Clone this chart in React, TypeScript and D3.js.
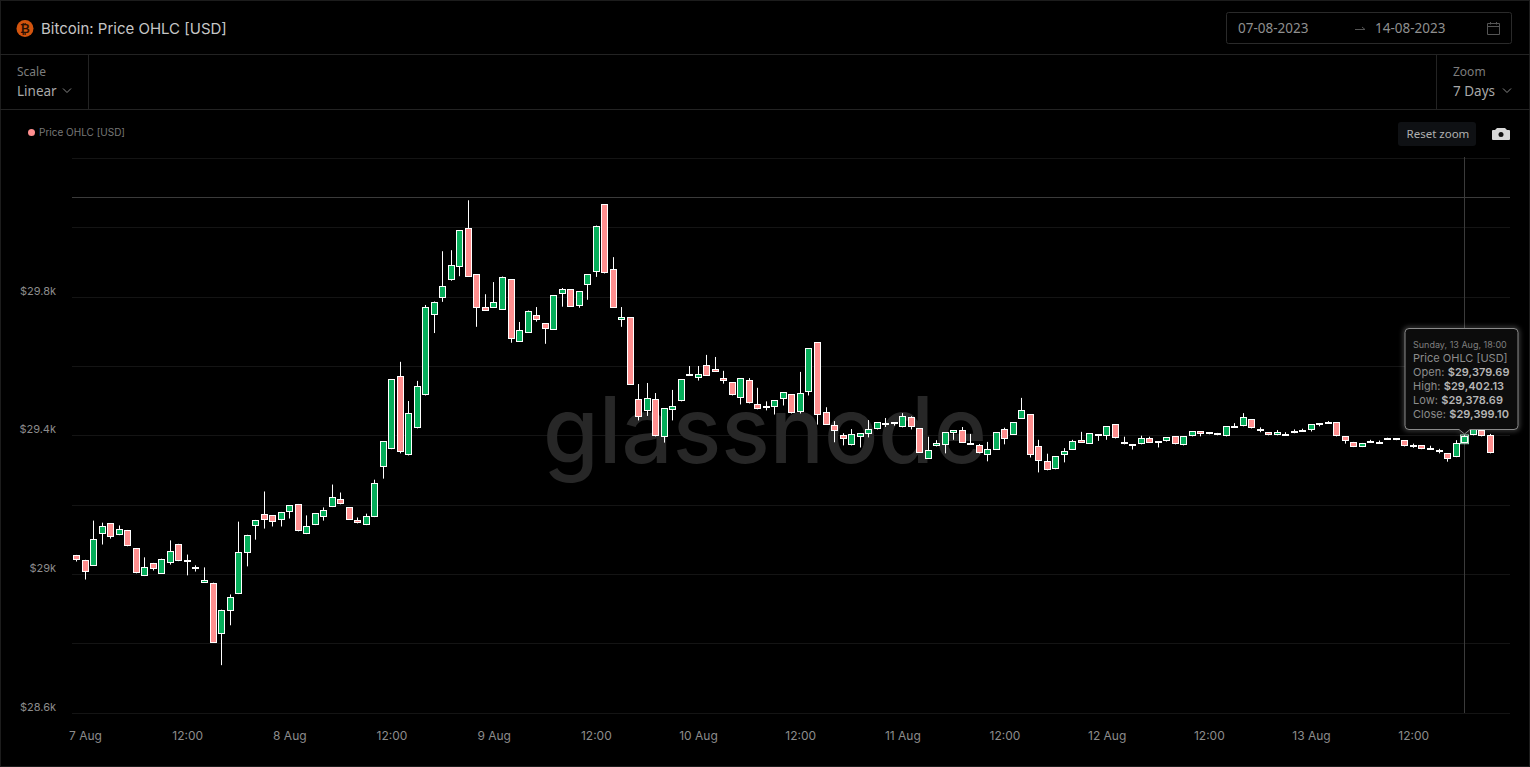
import React from "react";
import * as d3 from "d3";

const START_MS = Date.UTC(2023, 7, 6, 23);
const HOUR_MS = 3600000;
const opens = [29056,29042,29024,29116,29148,29113,29128,29076,28995,29033,29001,29032,29088,29042,29022,28975,28976,28828,28894,28943,29061,29139,29174,29171,29156,29179,29203,29116,29142,29165,29194,29218,29194,29157,29142,29165,29311,29361,29571,29343,29421,29516,29749,29798,29850,29887,30000,29865,29770,29769,29763,29851,29671,29697,29747,29724,29706,29809,29822,29775,29835,29871,30067,29880,29735,29741,29505,29472,29505,29395,29473,29499,29575,29565,29603,29592,29566,29554,29510,29560,29491,29484,29484,29507,29520,29467,29527,29669,29468,29430,29402,29372,29395,29406,29418,29433,29439,29424,29453,29422,29334,29369,29373,29409,29416,29375,29373,29343,29360,29419,29403,29449,29462,29370,29327,29303,29343,29360,29387,29377,29401,29398,29433,29381,29375,29375,29393,29380,29386,29399,29372,29398,29413,29404,29408,29398,29427,29427,29448,29415,29410,29401,29406,29407,29413,29415,29436,29435,29439,29399,29382,29367,29384,29381,29392,29393,29387,29369,29373,29362,29355,29350,29338,29379.69,29401,29417,29403];
const highs = [29056,29042,29155,29149,29148,29141,29128,29076,29049,29033,29045,29098,29088,29057,29026,29020,28976,28898,28942,29152,29114,29157,29239,29171,29180,29200,29203,29170,29177,29193,29259,29236,29194,29164,29175,29273,29384,29563,29613,29500,29558,29777,29787,29932,29935,29992,30079,29865,29808,29843,29859,29851,29728,29761,29771,29724,29805,29826,29822,29816,29865,30006,30067,29915,29771,29741,29549,29552,29523,29479,29532,29563,29601,29601,29633,29627,29587,29554,29566,29566,29538,29499,29502,29525,29520,29584,29652,29669,29482,29442,29407,29419,29407,29445,29439,29451,29439,29465,29456,29422,29397,29387,29410,29416,29425,29405,29376,29382,29410,29423,29439,29509,29462,29388,29348,29341,29364,29388,29411,29407,29404,29427,29433,29397,29376,29400,29397,29384,29396,29399,29399,29413,29413,29410,29408,29427,29436,29465,29448,29424,29410,29416,29410,29418,29420,29433,29436,29442,29439,29399,29382,29379,29388,29386,29394,29393,29387,29377,29373,29371,29362,29350,29387,29402.13,29418,29417,29405];
const lows = [29037,28985,29024,29086,29103,29113,29081,29003,28995,29011,29001,29028,29038,28997,29008,28975,28802,28738,28853,28943,29023,29100,29132,29138,29138,29161,29124,29116,29142,29155,29194,29202,29158,29147,29142,29165,29276,29361,29349,29343,29421,29516,29696,29786,29847,29860,29858,29714,29760,29769,29763,29668,29671,29697,29729,29665,29706,29772,29772,29769,29792,29858,29868,29769,29714,29547,29444,29457,29398,29380,29444,29499,29575,29559,29573,29585,29550,29516,29490,29493,29476,29473,29461,29487,29464,29464,29516,29432,29432,29381,29372,29372,29366,29395,29418,29425,29429,29424,29418,29351,29334,29369,29349,29388,29380,29375,29349,29326,29360,29375,29403,29449,29337,29294,29300,29303,29323,29360,29380,29377,29385,29388,29392,29375,29360,29375,29380,29366,29383,29375,29372,29398,29398,29404,29401,29398,29427,29427,29421,29410,29401,29401,29402,29407,29413,29412,29427,29435,29398,29377,29367,29367,29384,29379,29392,29387,29369,29365,29361,29362,29349,29325,29338,29378.69,29401,29398,29349];
const closes = [29041,29006,29102,29140,29107,29131,29081,29003,29022,29015,29045,29068,29038,29038,29015,28984,28802,28898,28935,29065,29114,29157,29156,29150,29180,29200,29124,29140,29177,29186,29223,29202,29158,29147,29169,29264,29384,29563,29354,29465,29543,29770,29787,29831,29891,29992,29858,29769,29760,29787,29859,29680,29704,29761,29735,29709,29805,29822,29772,29816,29865,30006,29868,29769,29741,29547,29455,29508,29398,29479,29485,29563,29578,29577,29573,29585,29559,29516,29566,29493,29476,29487,29502,29525,29464,29523,29652,29461,29432,29413,29389,29404,29407,29419,29439,29436,29435,29456,29424,29351,29358,29378,29410,29416,29380,29378,29349,29361,29410,29389,29439,29473,29343,29326,29300,29341,29355,29384,29380,29407,29404,29427,29392,29375,29376,29393,29380,29384,29396,29375,29399,29413,29405,29410,29401,29427,29429,29454,29421,29418,29401,29410,29402,29413,29416,29433,29433,29438,29398,29384,29367,29379,29386,29383,29394,29387,29369,29373,29361,29364,29359,29332,29379,29399.10,29418,29398,29349];

const yGridValues = [30200,30000,29800,29600,29400,29200,29000,28800,28600];
const yTickValues = [29800,29400,29000,28600];
const yTickLabels = ["$29.8k","$29.4k","$29k","$28.6k"];
const xTickHours = [1,13,25,37,49,61,73,85,97,109,121,133,145,157];
const xTickLabels = ["7 Aug","12:00","8 Aug","12:00","9 Aug","12:00","10 Aug","12:00","11 Aug","12:00","12 Aug","12:00","13 Aug","12:00"];
const tooltipLines = [
  ["Open: ", "$29,379.69"],
  ["High: ", "$29,402.13"],
  ["Low: ", "$29,378.69"],
  ["Close: ", "$29,399.10"],
];

const FONT = "Inter, 'Noto Sans', sans-serif";
const UI_FONT = "'Noto Sans', sans-serif";
const UP = "#05ad5a";
const DOWN = "#ff8f8f";
const LINE = "#232323";

const x = d3.scaleLinear().domain([0, 166]).range([76.3, 1489.6]);
const y = d3.scaleLinear().domain([28600, 29800]).range([713, 297]);
const crisp = (v: number) => Math.round(v) + 0.5;
const crispY = (v: number) => Math.round(v - 0.5) + 0.5;
const TT = "M1409 328.5H1514Q1518 328.5 1518 332.5V425.5Q1518 429.5 1514 429.5H1470L1464.5 434L1459 429.5H1409Q1405 429.5 1405 425.5V332.5Q1405 328.5 1409 328.5Z";

export default function App() {
  const hoverX = crisp(x(163));
  return (
    <svg width={1530} height={767} style={{ position: "absolute", left: 0, top: 0, display: "block", background: "#000" }} fontFamily={FONT}>
      <defs>
        <filter id="glow" x="-20%" y="-20%" width="140%" height="140%">
          <feGaussianBlur stdDeviation="2.5" />
        </filter>
      </defs>
      <rect width={1530} height={767} fill="#000" />
      <rect x={0.5} y={0.5} width={1529} height={766} fill="none" stroke="#1c1c1c" />

      {/* header */}
      <circle cx={25} cy={28.5} r={8.5} fill="#d2540e" />
      <text x={25} y={33} fontSize={12} fontWeight={700} textAnchor="middle" fill="#2a1003" fontFamily="'DejaVu Sans', sans-serif">₿</text>
      <text x={41} y={34} fontSize={15} fill="#c6c6c6">Bitcoin: Price OHLC [USD]</text>
      <rect x={1226.5} y={12.5} width={285} height={31} rx={2} fill="none" stroke="#2a2a2a" />
      <text x={1238} y={33} fontSize={13.5} fill="#8f8f8f" fontFamily={UI_FONT}>07-08-2023</text>
      <path d="M1355 29.5H1365M1362 27L1365 29.5" fill="none" stroke="#555" />
      <text x={1375} y={33} fontSize={13.5} fill="#8f8f8f" fontFamily={UI_FONT}>14-08-2023</text>
      <path d="M1487.5 23.5H1499.5V34.5H1487.5ZM1487.5 26.5H1499.5M1490.5 22V24.5M1496.5 22V24.5" fill="none" stroke="#555" />
      <line x1={0} x2={1530} y1={54.5} y2={54.5} stroke={LINE} />
      <line x1={0} x2={1530} y1={109.5} y2={109.5} stroke={LINE} />
      <line x1={88.5} x2={88.5} y1={54} y2={109} stroke={LINE} />
      <line x1={1436.5} x2={1436.5} y1={54} y2={109} stroke={LINE} />
      <text x={17} y={76} fontSize={12} fill="#7d7d7d" fontFamily={UI_FONT}>Scale</text>
      <text x={17} y={96} fontSize={13.5} fill="#a8a8a8" fontFamily={UI_FONT}>Linear</text>
      <path d="M63 88.5L67 92.5L71 88.5" fill="none" stroke="#888" />
      <text x={1453} y={76} fontSize={12} fill="#7d7d7d" fontFamily={UI_FONT}>Zoom</text>
      <text x={1453} y={96} fontSize={13.5} fill="#a8a8a8" fontFamily={UI_FONT}>7 Days</text>
      <path d="M1503 88.5L1507 92.5L1511 88.5" fill="none" stroke="#888" />

      {/* legend + buttons */}
      <circle cx={31.5} cy={132.5} r={3.5} fill={DOWN} />
      <text x={39} y={136} fontSize={10} fill="#777">Price OHLC [USD]</text>
      <rect x={1398} y={122} width={78} height={24} rx={3} fill="#0f1114" />
      <text x={1406.5} y={138} fontSize={11.5} fill="#b0b0b0" fontFamily={UI_FONT}>Reset zoom</text>
      <path d="M1497 128H1505L1507 130 H1509 Q1510 130 1510 131 V139 Q1510 140 1509 140 H1493 Q1492 140 1492 139 V131 Q1492 130 1493 130 H1495Z" fill="#d8d8d8" />
      <circle cx={1501} cy={134.5} r={2.5} fill="#111" />

      {/* grid */}
      {yGridValues.map((v) => (
        <line key={v} x1={72} x2={1510} y1={crispY(y(v))} y2={crispY(y(v))} stroke="#141414" />
      ))}
      <line x1={72} x2={1510} y1={197.5} y2={197.5} stroke="#3b3b3b" />

      {/* watermark */}
      <text x={543} y={463} fontSize={92} fontWeight={500} fill="#272727" fontFamily="Inter, sans-serif" textLength={444} lengthAdjust="spacingAndGlyphs">glassnode</text>

      <line x1={hoverX} x2={hoverX} y1={157} y2={713} stroke="#3b3b3b" />

      {/* candles */}
      {opens.map((o, i) => {
        const c = closes[i];
        const cx = crisp(x(i));
        const top = Math.round(y(Math.max(o, c)));
        const bot = Math.round(y(Math.min(o, c)));
        return (
          <g key={i}>
            <line x1={cx} x2={cx} y1={y(highs[i])} y2={y(lows[i])} stroke="#fff" />
            <rect x={cx - 3} y={top + 0.5} width={6} height={Math.max(1, bot - top - 1)} fill={c >= o ? UP : DOWN} stroke="#fff" />
          </g>
        );
      })}
      <rect x={hoverX - 4} y={y(closes[163]) - 1} width={8} height={y(opens[163]) - y(closes[163]) + 2} fill="none" stroke="#9fd8bb" strokeWidth={1} />

      {/* axes */}
      {yTickValues.map((v, i) => (
        <text key={v} x={56} y={y(v) - 2.5} fontSize={11} textAnchor="end" fill="#8c8c8c">{yTickLabels[i]}</text>
      ))}
      {xTickHours.map((h, i) => (
        <text key={h} x={x(h) + 0.7} y={740} fontSize={12} textAnchor="middle" fill="#8c8c8c">{xTickLabels[i]}</text>
      ))}

      {/* tooltip */}
      <path d={TT} fill="none" stroke="#fff" strokeOpacity={0.45} strokeWidth={2} filter="url(#glow)" />
      <path d={TT} fill="#0c0c0c" stroke="#8a8a8a" />
      <text x={1413} y={347.5} fontSize={9} fill="#7f7f7f">{new Date(START_MS + 163 * HOUR_MS).getUTCDay() === 0 ? "Sunday, 13 Aug, 18:00" : ""}</text>
      <text x={1413} y={362} fontSize={11} fill="#8c8c8c">Price OHLC [USD]</text>
      {tooltipLines.map(([k, v], i) => (
        <text key={k} x={1413} y={376 + i * 14} fontSize={11} fill="#8c8c8c" letterSpacing={0.06}>
          {k}<tspan fontWeight={600} fill="#b5b5b5">{v}</tspan>
        </text>
      ))}
    </svg>
  );
}
